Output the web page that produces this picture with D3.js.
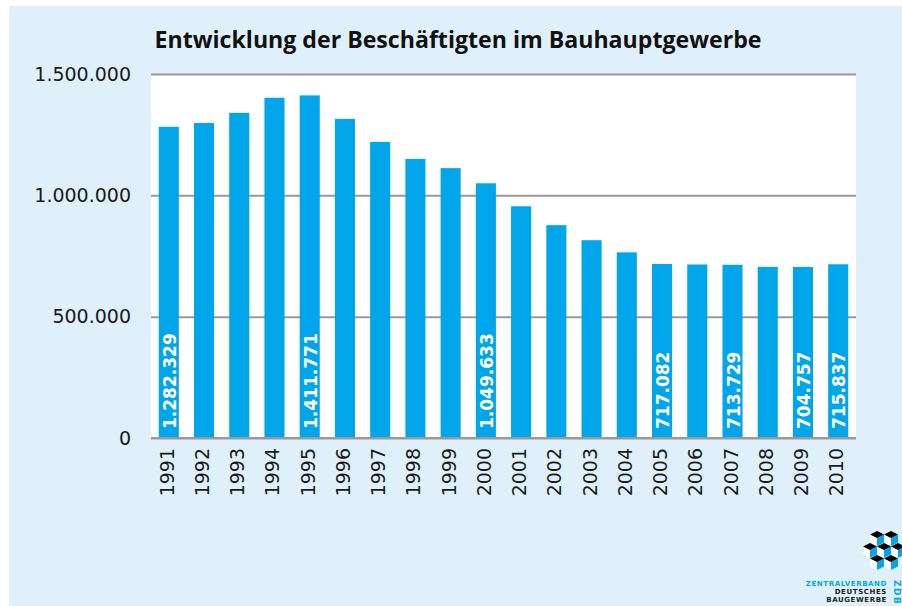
<!DOCTYPE html>
<html><head><meta charset="utf-8">
<script src="https://cdn.jsdelivr.net/npm/d3@7"></script>
<style>
html,body{margin:0;padding:0;background:#fff;}
svg{display:block;}
</style></head>
<body>
<svg id="c" width="902" height="606"></svg>
<script>
const title = "Entwicklung der Beschäftigten im Bauhauptgewerbe";
const years = ["1991","1992","1993","1994","1995","1996","1997","1998","1999","2000",
               "2001","2002","2003","2004","2005","2006","2007","2008","2009","2010"];
const employees = [1282329,1298000,1340000,1402000,1411771,1315000,1220000,1150000,1112000,1049633,
                   955000,877000,815000,765000,717082,715000,713729,705000,704757,715837];
const labeledYears = ["1991","1995","2000","2005","2007","2009","2010"];
const yTicks = [0,500000,1000000,1500000];
const logoLines = ["ZENTRALVERBAND","DEUTSCHES","BAUGEWERBE"];

const de = d3.formatLocale({decimal:",", thousands:".", grouping:[3], currency:["","€"]});
const fmt = de.format(",d");

const svg = d3.select("#c");
const BLUE = "#00a6e9";
const font = "'DejaVu Sans', sans-serif";

// panel background
svg.append("rect").attr("x",9).attr("y",6).attr("width",893).attr("height",600).attr("fill","#dff0fa");

const m = {left:151, right:856, top:74, bottom:438};
const x = d3.scaleBand().domain(years).range([m.left,m.right]).paddingInner(0.43).paddingOuter(0.22);
const y = d3.scaleLinear().domain([0,1500000]).range([m.bottom,m.top]);

// plot area
svg.append("rect").attr("x",m.left).attr("y",m.top).attr("width",m.right-m.left).attr("height",m.bottom-m.top).attr("fill","#fff");

// y axis with gridlines
const yAxis = svg.append("g").attr("transform",`translate(${m.left},0)`)
  .call(d3.axisLeft(y).tickValues(yTicks).tickFormat(fmt).tickSize(-(m.right-m.left)).tickPadding(20));
yAxis.select(".domain").remove();
yAxis.selectAll(".tick line").attr("stroke","#999").attr("stroke-width",2);
yAxis.selectAll(".tick text").attr("font-family",font).attr("font-size",19).attr("fill","#1a1a1a");

// bars
svg.append("g").selectAll("rect").data(years).join("rect")
  .attr("x",d=>x(d)).attr("width",x.bandwidth())
  .attr("y",(d,i)=>y(employees[i])).attr("height",(d,i)=>y(0)-y(employees[i]))
  .attr("fill",BLUE);

// zero line on top of bars
svg.append("line").attr("x1",m.left).attr("x2",m.right).attr("y1",y(0)).attr("y2",y(0)).attr("stroke","#999").attr("stroke-width",2);

// bar value labels
svg.append("g").selectAll("text").data(years.filter(d=>labeledYears.includes(d))).join("text")
  .attr("transform",d=>`translate(${x(d)+x.bandwidth()/2+1},${y(0)-9}) rotate(-90)`)
  .attr("dominant-baseline","central")
  .attr("font-family",font).attr("font-weight","bold").attr("font-size",17).attr("fill","#fff")
  .text(d=>fmt(employees[years.indexOf(d)]));

// x axis
const xAxis = svg.append("g").attr("transform",`translate(0,${m.bottom})`)
  .call(d3.axisBottom(x).tickSize(0).tickPadding(0));
xAxis.select(".domain").remove();
xAxis.selectAll(".tick text")
  .attr("transform","translate(-2,10) rotate(-90)")
  .attr("text-anchor","end").attr("dy",null).attr("y",0).attr("x",0)
  .attr("dominant-baseline","central")
  .attr("font-family",font).attr("font-size",19).attr("fill","#1a1a1a");

// title
const t = svg.append("text").attr("x",458).attr("y",48).attr("text-anchor","middle")
  .attr("font-family","'Open Sans', sans-serif").attr("font-weight","bold").attr("font-size",24)
  .attr("fill","#111").text(title);
const w = t.node().getComputedTextLength();
t.attr("font-size",24*607/w);

// logo cubes
const cubes = [[877,538],[891,538],[870,550],[884,550],[898,550],[877,562],[891,562]];
const lg = svg.append("g");
cubes.forEach(([cx,cy])=>{
  lg.append("path").attr("d",`M${cx-7},${cy-3.5}L${cx},${cy}L${cx},${cy+8}L${cx-7},${cy+4.5}Z`).attr("fill","#fff");
  lg.append("path").attr("d",`M${cx},${cy}L${cx+7},${cy-3.5}L${cx+7},${cy+4.5}L${cx},${cy+8}Z`).attr("fill",BLUE);
  lg.append("path").attr("d",`M${cx},${cy-7}L${cx+7},${cy-3.5}L${cx},${cy}L${cx-7},${cy-3.5}Z`).attr("fill","#000");
});
lg.selectAll("text.l").data(logoLines).join("text")
  .attr("x",887).attr("y",(d,i)=>586+i*8).attr("text-anchor","end")
  .attr("font-family",font).attr("font-weight","bold").attr("font-size",7).attr("letter-spacing",0.6)
  .attr("fill",(d,i)=>i===0?BLUE:"#222").text(d=>d);
lg.append("text").attr("transform","translate(894,580) rotate(90)")
  .attr("font-family",font).attr("font-weight","bold").attr("font-size",9).attr("letter-spacing",1.5)
  .attr("fill",BLUE).text("ZDB");
</script>
</body></html>
